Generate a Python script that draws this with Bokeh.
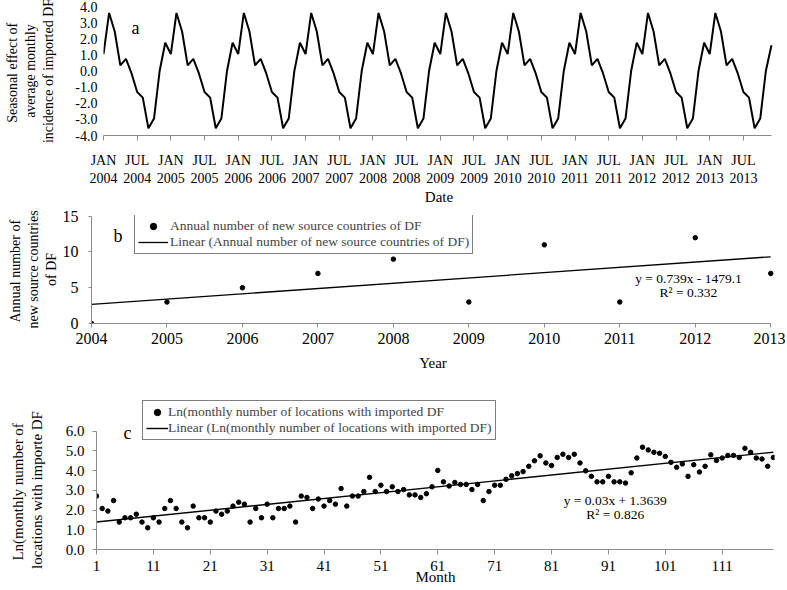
import numpy as np
from bokeh.plotting import figure
from bokeh.models import Range1d, FixedTicker, Legend, LegendItem, Label, NumeralTickFormatter
from bokeh.embed import file_html
from bokeh.resources import INLINE

FONT = "Liberation Serif"
AXIS_GRAY = "#8c8c8c"

# ---------------- data: panel a (seasonal effect, Jan 2004 .. Dec 2013) ----------------
SEASONAL_EFFECT = [
    1.05, 3.6, 2.45, 0.35, 0.75, -0.15, -1.3, -1.65, -3.55, -2.95, 0.0, 1.75,
    1.05, 3.6, 2.45, 0.35, 0.75, -0.15, -1.3, -1.65, -3.55, -2.95, 0.0, 1.75,
    1.05, 3.6, 2.45, 0.35, 0.75, -0.15, -1.3, -1.65, -3.55, -2.95, 0.0, 1.75,
    1.05, 3.6, 2.45, 0.35, 0.75, -0.15, -1.3, -1.65, -3.55, -2.95, 0.0, 1.75,
    1.05, 3.6, 2.45, 0.35, 0.75, -0.15, -1.3, -1.65, -3.55, -2.95, 0.0, 1.75,
    1.05, 3.6, 2.45, 0.35, 0.75, -0.15, -1.3, -1.65, -3.55, -2.95, 0.0, 1.75,
    1.05, 3.6, 2.45, 0.35, 0.75, -0.15, -1.3, -1.65, -3.55, -2.95, 0.0, 1.75,
    1.05, 3.6, 2.45, 0.35, 0.75, -0.15, -1.3, -1.65, -3.55, -2.95, 0.0, 1.75,
    1.05, 3.6, 2.45, 0.35, 0.75, -0.15, -1.3, -1.65, -3.55, -2.95, 0.0, 1.75,
    1.05, 3.6, 2.45, 0.35, 0.75, -0.15, -1.3, -1.65, -3.55, -2.95, 0.0, 1.6,
]
DATE_TICK_LABELS = [
    "JAN\n2004", "JUL\n2004", "JAN\n2005", "JUL\n2005", "JAN\n2006", "JUL\n2006",
    "JAN\n2007", "JUL\n2007", "JAN\n2008", "JUL\n2008", "JAN\n2009", "JUL\n2009",
    "JAN\n2010", "JUL\n2010", "JAN\n2011", "JUL\n2011", "JAN\n2012", "JUL\n2012",
    "JAN\n2013", "JUL\n2013",
]

# ---------------- data: panel b ----------------
YEARS = [2004, 2005, 2006, 2007, 2008, 2009, 2010, 2011, 2012, 2013]
NEW_SOURCE_COUNTRIES = [0, 3, 5, 7, 9, 3, 11, 3, 12, 7]
EQ_B = "y = 0.739x - 1479.1"
R2_B = "R\u00b2 = 0.332"

# ---------------- data: panel c ----------------
MONTHS = list(range(1, 121))
LN_LOCATIONS = [
    2.71, 2.08, 1.95, 2.48, 1.39, 1.61, 1.61, 1.79, 1.39, 1.10,
    1.61, 1.39, 2.08, 2.48, 2.08, 1.39, 1.10, 2.20, 1.61, 1.61,
    1.39, 1.95, 1.79, 1.95, 2.20, 2.40, 2.30, 1.39, 2.08, 1.61,
    2.30, 1.61, 2.08, 2.08, 2.20, 1.39, 2.71, 2.64, 2.08, 2.56,
    2.20, 2.48, 2.30, 3.09, 2.20, 2.71, 2.71, 2.94, 3.66, 2.94,
    3.26, 2.94, 3.18, 2.94, 3.04, 2.77, 2.77, 2.64, 2.83, 3.18,
    4.01, 3.43, 3.22, 3.40, 3.30, 3.30, 3.04, 3.30, 2.48, 2.94,
    3.26, 3.26, 3.56, 3.74, 3.85, 3.95, 4.22, 4.50, 4.75, 4.39,
    4.26, 4.67, 4.83, 4.67, 4.83, 4.39, 3.99, 3.71, 3.43, 3.43,
    3.71, 3.43, 3.43, 3.37, 3.89, 4.64, 5.19, 5.05, 4.93, 4.88,
    4.72, 4.42, 4.17, 4.34, 3.71, 4.30, 3.93, 4.22, 4.80, 4.52,
    4.64, 4.77, 4.77, 4.67, 5.13, 4.93, 4.64, 4.59, 4.22, 4.67,
]
EQ_C = "y = 0.03x + 1.3639"
R2_C = "R\u00b2 = 0.826"
MONTH_TICKS = [1, 11, 21, 31, 41, 51, 61, 71, 81, 91, 101, 111]

W = 785
RIGHT = 11
NB = "\u00a0"


def base(p):
    p.outline_line_color = None
    p.xgrid.grid_line_color = None
    p.ygrid.grid_line_color = None
    p.background_fill_color = "white"
    p.border_fill_color = "white"
    for ax in (p.xaxis[0], p.yaxis[0]):
        ax.axis_line_color = AXIS_GRAY
        ax.major_tick_line_color = AXIS_GRAY
        ax.minor_tick_line_color = None
        ax.major_tick_in = 0
        ax.major_label_text_font = FONT
        ax.major_label_text_color = "black"
        ax.axis_label_text_font = FONT
        ax.axis_label_text_font_style = "normal"
        ax.axis_label_text_color = "black"
        ax.axis_label_text_font_size = "15px"


def txt(p, x, y, s, size="13.5px"):
    p.add_layout(Label(x=x, y=y, text=s, text_font=FONT, text_font_size=size,
                       text_align="center", text_baseline="middle", text_color="black"))


# ================= panel a =================
month_idx = np.arange(len(SEASONAL_EFFECT))
fa = figure(width=W, height=207, x_range=Range1d(0, 119.54), y_range=Range1d(-4, 4),
            output_backend="svg", toolbar_location=None,
            min_border_left=103, min_border_right=RIGHT, min_border_top=6, min_border_bottom=68)
base(fa)
fa.line(month_idx, SEASONAL_EFFECT, line_color="black", line_width=2)
tick_pos = [6 * i for i in range(len(DATE_TICK_LABELS))]
fa.xaxis.ticker = FixedTicker(ticks=tick_pos)
fa.xaxis.major_label_overrides = {t: lab for t, lab in zip(tick_pos, DATE_TICK_LABELS)}
fa.xaxis.bounds = (0, 119)
fa.xaxis.major_tick_out = 5
fa.xaxis.major_label_standoff = 12
fa.xaxis.major_label_text_font_size = "14px"
fa.xaxis.axis_label = "Date"
fa.xaxis.axis_label_standoff = 0
fa.yaxis.ticker = FixedTicker(ticks=[-4, -3, -2, -1, 0, 1, 2, 3, 4])
fa.yaxis.formatter = NumeralTickFormatter(format="0.0")
fa.yaxis.axis_line_color = None
fa.yaxis.major_tick_line_color = None
fa.yaxis.major_tick_out = 0
fa.yaxis.major_label_standoff = 6
fa.yaxis.major_label_text_font_size = "14px"
fa.yaxis.axis_label = "Seasonal  effect of\naverage monthly\nincidence of imported DF"
fa.yaxis.axis_label_text_font_size = "14px"
fa.yaxis.axis_label_standoff = 16
txt(fa, 5.7, 2.68, "a", "18px")

# ================= panel b =================
fb = figure(width=W, height=170, x_range=Range1d(2004, 2013.05), y_range=Range1d(0, 15.1),
            output_backend="svg", toolbar_location=None,
            min_border_left=91, min_border_right=RIGHT, min_border_top=8, min_border_bottom=54)
base(fb)
slope_b, icpt_b = np.polyfit(YEARS, NEW_SOURCE_COUNTRIES, 1)
fit_x_b = [YEARS[0], YEARS[-1]]
fit_y_b = [slope_b * v + icpt_b for v in fit_x_b]
r_fit_b = fb.line(fit_x_b, fit_y_b, line_color="black", line_width=1.3)
r_pts_b = fb.scatter(YEARS, NEW_SOURCE_COUNTRIES, size=4.5, color="black")
fb.xaxis.ticker = FixedTicker(ticks=YEARS)
fb.xaxis.formatter = NumeralTickFormatter(format="0")
fb.xaxis.bounds = (2004, 2013)
fb.xaxis.major_tick_out = 4
fb.xaxis.major_label_standoff = 5
fb.xaxis.major_label_text_font_size = "16px"
fb.xaxis.axis_label = "Year"
fb.xaxis.axis_label_standoff = 8
fb.yaxis.ticker = FixedTicker(ticks=[0, 5, 10, 15])
fb.yaxis.bounds = (0, 15)
fb.yaxis.major_tick_out = 3
fb.yaxis.major_label_standoff = 10
fb.yaxis.major_label_text_font_size = "16px"
fb.yaxis.axis_label = "Annual  number of\nnew source countries\nof DF"
fb.yaxis.axis_label_text_font_size = "14px"
fb.yaxis.axis_label_standoff = 1
leg_b = Legend(items=[
    LegendItem(label="Annual number of new source countries of DF", renderers=[r_pts_b]),
    LegendItem(label="Linear (Annual number of new source countries of DF)", renderers=[r_fit_b]),
], location=(43, 69), padding=3, spacing=0, margin=0, glyph_width=30, glyph_height=16,
    label_height=16, label_standoff=2, label_text_font=FONT, label_text_font_size="13.5px",
    border_line_color="black", border_line_width=1, background_fill_color="white",
    background_fill_alpha=1.0)
fb.add_layout(leg_b)
txt(fb, 2011.91, 6.36, EQ_B)
txt(fb, 2011.91, 4.36, R2_B)
txt(fb, 2004.35, 12.3, "b", "18px")

# ================= panel c =================
fc = figure(width=W, height=212, x_range=Range1d(1, 120.2), y_range=Range1d(0, 7.557),
            output_backend="svg", toolbar_location=None,
            min_border_left=96, min_border_right=RIGHT, min_border_top=23, min_border_bottom=40)
base(fc)
slope_c, icpt_c = np.polyfit(MONTHS, LN_LOCATIONS, 1)
fit_x_c = [MONTHS[0], MONTHS[-1]]
fit_y_c = [slope_c * v + icpt_c for v in fit_x_c]
r_fit_c = fc.line(fit_x_c, fit_y_c, line_color="black", line_width=1.4)
r_pts_c = fc.scatter(MONTHS, LN_LOCATIONS, size=4.5, color="black")
fc.xaxis.ticker = FixedTicker(ticks=MONTH_TICKS)
fc.xaxis.bounds = (1, 120.02)
fc.xaxis.major_tick_out = 5
fc.xaxis.major_label_standoff = 6
fc.xaxis.major_label_text_font_size = "15px"
fc.xaxis.axis_label = "Month"
fc.xaxis.axis_label_standoff = -5
fc.yaxis.bounds = (0, 6)
fc.yaxis.ticker = FixedTicker(ticks=[0, 1, 2, 3, 4, 5, 6])
fc.yaxis.formatter = NumeralTickFormatter(format="0.0")
fc.yaxis.major_tick_out = 4
fc.yaxis.major_label_standoff = 8
fc.yaxis.major_label_text_font_size = "15px"
fc.yaxis.axis_label = ("Ln(monthly  number of" + NB * 8 + "\n" +
                       "locations with importe DF" + NB * 8)
fc.yaxis.axis_label_text_font_size = "15px"
fc.yaxis.axis_label_standoff = 18
leg_c = Legend(items=[
    LegendItem(label="Ln(monthly number of locations with imported DF", renderers=[r_pts_c]),
    LegendItem(label="Linear (Ln(monthly number of locations with imported DF)", renderers=[r_fit_c]),
], location=(46, 109), padding=3, spacing=0, margin=0, glyph_width=22, glyph_height=16,
    label_height=16, label_standoff=0, label_text_font=FONT, label_text_font_size="13.5px",
    border_line_color="black", border_line_width=1, background_fill_color="white",
    background_fill_alpha=1.0)
fc.add_layout(leg_c)
txt(fc, 92.2, 2.50, EQ_C)
txt(fc, 92.2, 1.76, R2_C)
txt(fc, 6.46, 5.9, "c", "18px")

open("out.html", "w").write(file_html([fa, fb, fc], INLINE, title="chart"))
